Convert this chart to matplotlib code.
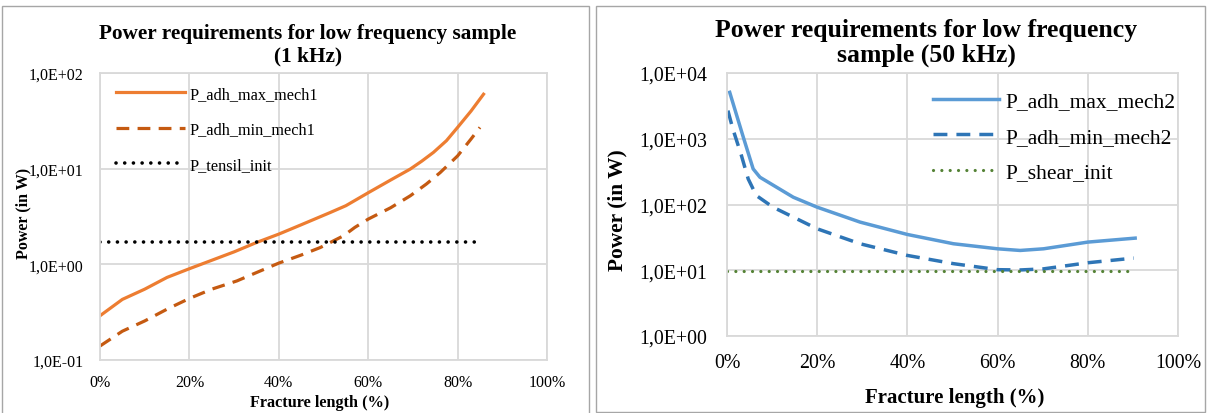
"""Power requirements for low / high frequency samples (two log panels)"""

import numpy as np
import matplotlib
matplotlib.use("Agg")
import matplotlib.pyplot as plt
from matplotlib.patches import Rectangle

plt.rcParams['font.family'] = ['Liberation Serif', 'DejaVu Serif']

W, H = 1207, 414

# ---- left panel data (1 kHz) ----
frac1_max = [0, 5, 10, 15, 20, 30, 35, 40, 45, 51.5, 55, 60, 65, 69.4, 72, 74.6, 77.5, 80, 83, 85.8]
p_max_mech1 = [0.29, 0.43, 0.55, 0.73, 0.90, 1.35, 1.69, 2.07, 2.59, 3.48, 4.1, 5.6, 7.6, 9.9,
               12.0, 14.8, 19.6, 27.0, 40, 60]
frac1_min = [0, 5, 10, 15, 20, 25, 30.6, 35, 40, 45, 49.3, 54.5, 57, 60, 65, 69.4, 73, 76.1, 80, 83, 85]
p_min_mech1 = [0.14, 0.20, 0.256, 0.34, 0.44, 0.55, 0.67, 0.82, 1.03, 1.25, 1.50, 1.99, 2.43, 2.97,
               3.9, 5.2, 6.9, 9.1, 13.6, 20.4, 27]
frac1_tensil = [0, 85]
p_tensil_init = [1.73, 1.73]

# ---- right panel data (50 kHz) ----
frac2_max = [0.6, 3.5, 5.8, 7.3, 11, 14.7, 20, 29.5, 40, 50.2, 60, 65, 70.2, 80, 90.5]
p_max_mech2 = [5080, 1120, 348, 260, 183, 129, 91, 54, 35, 25.3, 21.2, 20, 21.2, 26.8, 30.8]
frac2_min = [0.2, 1.3, 3.2, 4.7, 6.5, 10.2, 20, 29.5, 40, 50.2, 60, 65, 70.2, 80, 90.2]
p_min_mech2 = [2680, 1410, 555, 245, 137, 91, 42.7, 25.3, 16.8, 12.6, 10.2, 10.1, 10.5, 13.0, 15.3]
frac2_shear = [0, 90.5]
p_shear_init = [9.8, 9.8]

x_ticks = [0, 20, 40, 60, 80, 100]
x_labels = ['0%', '20%', '40%', '60%', '80%', '100%']
y1_ticks = [0.1, 1, 10, 100]
y1_labels = ['1,0E-01', '1,0E+00', '1,0E+01', '1,0E+02']
y2_ticks = [1, 10, 100, 1000, 10000]
y2_labels = ['1,0E+00', '1,0E+01', '1,0E+02', '1,0E+03', '1,0E+04']

GRID = '#D9D9D9'


def px_axes(fig, x0, y0, x1, y1):
    """Axes placed by pixel box (top-left origin)."""
    return fig.add_axes([x0 / W, 1 - y1 / H, (x1 - x0) / W, (y1 - y0) / H])


def style_axes(ax, yticks, ylabels, tick_fs):
    ax.set_yscale('log')
    ax.set_xlim(0, 100)
    ax.set_xticks(x_ticks)
    ax.set_xticklabels(x_labels, fontsize=tick_fs)
    ax.set_yticks(yticks)
    ax.set_yticklabels(ylabels, fontsize=tick_fs)
    ax.minorticks_off()
    ax.tick_params(length=0)
    ax.grid(True, color=GRID, linewidth=1.3)
    ax.set_axisbelow(True)
    for sp in ax.spines.values():
        sp.set_color(GRID)
        sp.set_linewidth(1.3)


fig = plt.figure(figsize=(W / 100, H / 100), dpi=100)

# panel borders
fig.patches.append(Rectangle((2 / W, -0.05), 587 / W, 1.05 - 7 / H, transform=fig.transFigure,
                             fill=False, edgecolor='#A6A6A6', linewidth=1.0))
fig.patches.append(Rectangle((596 / W, 1 - 413 / H), 609 / W, 406 / H, transform=fig.transFigure,
                             fill=False, edgecolor='#A6A6A6', linewidth=1.0))

# ---- left panel ----
ax1 = px_axes(fig, 100, 74, 547, 361)
ax1.plot(frac1_max, p_max_mech1, color='#ED7D31', lw=2.3, label='P_adh_max_mech1')
ax1.plot(frac1_min, p_min_mech1, color='#C55A11', lw=2.3, linestyle=(0, (4, 2.6)),
         label='P_adh_min_mech1')
ax1.plot(frac1_tensil, p_tensil_init, color='black', lw=2.6, linestyle=(0, (0.01, 2.4)),
         dash_capstyle='round', label='P_tensil_init')
ax1.set_ylim(0.1, 100)
style_axes(ax1, y1_ticks, y1_labels, 11.5)
ax1.tick_params(axis='x', pad=10)
ax1.tick_params(axis='y', pad=12)
ax1.legend(loc='upper left', bbox_to_anchor=(0.004, 1.006), frameon=False, fontsize=11.7,
           handlelength=4.2, handletextpad=0.3, labelspacing=1.2)
fig.text(308 / W, 1 - 45 / H, 'Power requirements for low frequency sample\n(1 kHz)',
         ha='center', va='center', fontsize=15.3, fontweight='bold', linespacing=1.15)
fig.text(23 / W, 1 - 213 / H, 'Power (in W)', rotation=90, ha='center', va='center',
         fontsize=11.5, fontweight='bold')
fig.text(320 / W, 1 - 403 / H, 'Fracture length (%)', ha='center', va='center',
         fontsize=11.7, fontweight='bold')

# ---- right panel ----
ax2 = px_axes(fig, 727, 74, 1178, 337)
ax2.plot(frac2_max, p_max_mech2, color='#5B9BD5', lw=2.5, label='P_adh_max_mech2')
ax2.plot(frac2_min, p_min_mech2, color='#2E75B6', lw=2.5, linestyle=(0, (4, 2.6)),
         label='P_adh_min_mech2')
ax2.plot(frac2_shear, p_shear_init, color='#548235', lw=2.3, linestyle=(0, (0.01, 2.6)),
         dash_capstyle='round', label='P_shear_init')
ax2.set_ylim(1, 10000)
style_axes(ax2, y2_ticks, y2_labels, 14.3)
ax2.tick_params(axis='x', pad=12)
ax2.tick_params(axis='y', pad=14)
ax2.legend(loc='upper right', bbox_to_anchor=(1.038, 1.004), frameon=False, fontsize=15.5,
           handlelength=3.1, handletextpad=0.3, labelspacing=0.72)
fig.text(926 / W, 1 - 43 / H, 'Power requirements for low frequency\nsample (50 kHz)',
         ha='center', va='center', fontsize=18.5, fontweight='bold', linespacing=1.12)
fig.text(617 / W, 1 - 210 / H, 'Power (in W)', rotation=90, ha='center', va='center',
         fontsize=15.4, fontweight='bold')
fig.text(955 / W, 1 - 398 / H, 'Fracture length (%)', ha='center', va='center',
         fontsize=15, fontweight='bold')

plt.savefig('out.png', dpi=100)
plt.close()
